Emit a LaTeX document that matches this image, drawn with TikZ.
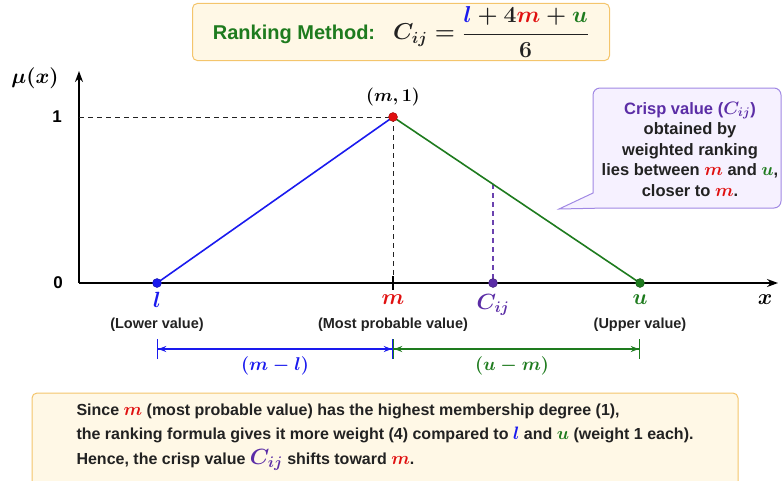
\documentclass[tikz,border=0pt]{standalone}
\usepackage{fix-cm}
\usepackage{amsmath,bm}
\usepackage[no-math]{fontspec}
\setmainfont{Liberation Sans}
\usetikzlibrary{arrows.meta}

\definecolor{lowblue}{HTML}{1A1AEE}
\definecolor{upgreen}{HTML}{1E7B1E}
\definecolor{peakred}{HTML}{E01010}
\definecolor{crisppurple}{HTML}{5B2DA6}
\definecolor{notefill}{HTML}{FFF8E6}
\definecolor{noteedge}{HTML}{F4C56C}
\definecolor{callfill}{HTML}{F6F1FF}
\definecolor{calledge}{HTML}{A088E4}
\definecolor{inktext}{HTML}{222222}

\newcommand{\bigmath}[1]{{\fontsize{18}{20}\selectfont$#1$}}

\tikzset{
  dot/.style={circle, inner sep=0pt, minimum size=9pt, draw=#1!70!black, fill=#1},
  guide/.style={dashed, line width=0.9pt, dash pattern=on 5pt off 4pt},
  axislabel/.style={font=\fontsize{22}{24}\selectfont\boldmath, inner sep=1pt},
  valuelabel/.style={font=\fontsize{14.5}{16}\selectfont\bfseries, text=inktext},
  spanlabel/.style={font=\fontsize{18.5}{20}\selectfont\boldmath, inner sep=1pt},
  notebox/.style={draw=noteedge, fill=notefill, line width=1pt, rounded corners=5pt},
}

\begin{document}
\begin{tikzpicture}[x=1pt, y=-1pt, >=Stealth]
    \useasboundingbox (0,0) rectangle (783,480);

    \node[notebox, minimum width=417pt, minimum height=49pt,
        font=\fontsize{20}{24}\selectfont\bfseries\boldmath, text=inktext] (rank) at (401,32)
        {\textcolor{upgreen}{Ranking Method:}\hspace{18pt}{\fontsize{23}{26}\selectfont$C_{ij} = \dfrac{\textcolor{lowblue}{l} + 4\textcolor{peakred}{m} + \textcolor{upgreen}{u}}{6}$}};

    \coordinate (O) at (79,283);
    \coordinate (ytop) at (79,71);
    \coordinate (xend) at (778,283);
    \draw[-{Stealth[length=11pt, width=8pt]}, line width=1.6pt] (O) -- (ytop);
    \draw[-{Stealth[length=11pt, width=8pt]}, line width=1.6pt] (O) -- (xend);
    \node[font=\fontsize{21}{24}\selectfont\boldmath] (mux) at (35,78) {$\mu(x)$};
    \node[font=\fontsize{17}{20}\selectfont\bfseries] (one) at (57,117) {1};
    \node[font=\fontsize{17}{20}\selectfont\bfseries] (zero) at (58,283) {0};
    \node[axislabel] (xlab) at (765,300) {$x$};

    \coordinate (y1) at (79,117);
    \coordinate (mx) at (393,283);
    \coordinate (cy) at (493,184);
    \draw[guide, inktext] (y1) -- (393,117);
    \draw[guide, inktext] (393,117) -- (mx);
    \draw[line width=1.2pt] (mx) ++(0,-7) -- ++(0,14);
    \draw[guide, line width=1.1pt, crisppurple!90] (cy) -- (493,283);

    \draw[lowblue, line width=1.6pt] (157,283) -- (393,117);
    \draw[upgreen, line width=1.6pt] (393,117) -- (640,283);

    \node[dot=lowblue] (l) at (157,283) {};
    \node[dot=peakred] (m) at (393,117) {};
    \node[dot=crisppurple] (c) at (493,283) {};
    \node[dot=upgreen] (u) at (640,283) {};

    \node[font=\fontsize{18}{20}\selectfont\boldmath] (peak) at (393,97) {$(m,1)$};

    \node[axislabel, text=lowblue] (llab) at (157,300) {$l$};
    \node[axislabel, text=peakred] (mlab) at (393,300) {$m$};
    \node[axislabel, text=crisppurple] (clab) at (493,305) {$C_{ij}$};
    \node[axislabel, text=upgreen] (ulab) at (640,300) {$u$};

    \node[valuelabel] (lval) at (157,325) {(Lower value)};
    \node[valuelabel] (mval) at (393,325) {(Most probable value)};
    \node[valuelabel] (uval) at (640,325) {(Upper value)};

    \coordinate (dl) at (157,349);
    \coordinate (dm) at (393,349);
    \coordinate (du) at (640,349);
    \draw[lowblue, line width=1.2pt, {Bar[width=20pt]Stealth[length=8pt]}-{Stealth[length=8pt]Bar[width=20pt]}] (dl) -- (dm);
    \draw[upgreen, line width=1.2pt, {Bar[width=20pt]Stealth[length=8pt]}-{Stealth[length=8pt]Bar[width=20pt]}] (dm) -- (du);
    \node[spanlabel, text=lowblue] (ml) at (275,366) {$(m-l)$};
    \node[spanlabel, text=upgreen] (um) at (512,366) {$(u-m)$};

    \filldraw[draw=calledge, fill=callfill, line width=1pt]
        (559,209) -- (593,193) [rounded corners=7pt] -- (593,88) -- (781,88) -- (781,208)
        [sharp corners] -- (606,208) -- cycle;
    \node[font=\fontsize{16.5}{20.5}\selectfont\bfseries\boldmath, text=inktext, align=center] (crisp) at (690,149)
        {\textcolor{crisppurple}{Crisp value (\bigmath{C_{ij}})}\\
         obtained by\\
         weighted ranking\\
         lies between \textcolor{peakred}{\bigmath{m}} and \textcolor{upgreen}{\bigmath{u}},\\
         closer to \textcolor{peakred}{\bigmath{m}}.};

    \draw[notebox] (32,393) rectangle (738,495);
    \node[font=\fontsize{16}{24.5}\selectfont\bfseries\boldmath, text=inktext, align=left, anchor=west] (note) at (73,437)
        {Since \textcolor{peakred}{\bigmath{m}} (most probable value) has the highest membership degree (1),\\
         the ranking formula gives it more weight (4) compared to \textcolor{lowblue}{\bigmath{l}} and \textcolor{upgreen}{\bigmath{u}} (weight 1 each).\\
         Hence, the crisp value \textcolor{crisppurple}{{\fontsize{22}{24}\selectfont$C_{ij}$}} shifts toward \textcolor{peakred}{\bigmath{m}}.};
\end{tikzpicture}
\end{document}
